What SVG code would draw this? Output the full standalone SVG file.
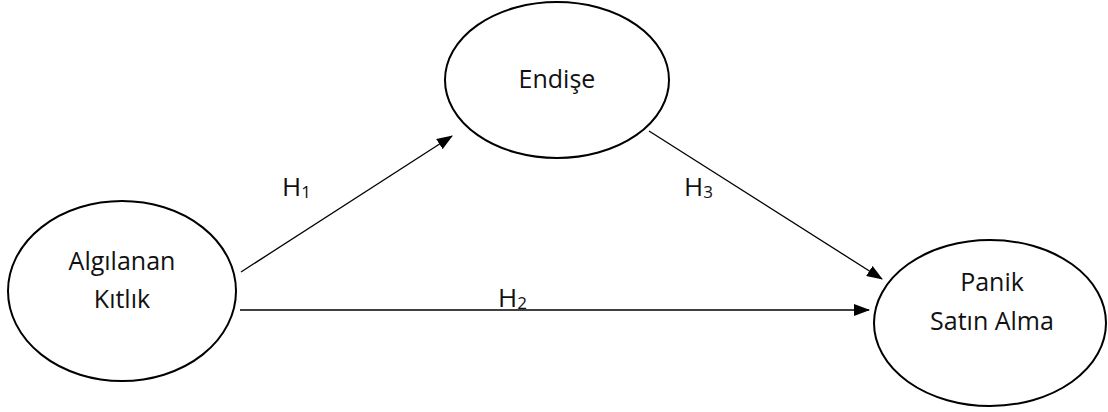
<svg xmlns="http://www.w3.org/2000/svg" width="1108" height="412" viewBox="0 0 1108 412">
<style>
.node{fill:#fff;stroke:#000;stroke-width:2}
.t{font-family:"Open Sans","Liberation Sans",sans-serif;font-size:25px;fill:#111;text-anchor:middle}
.h{font-family:"Open Sans","Liberation Sans",sans-serif;font-size:26px;fill:#111}
.sub{font-size:17px}
.c{stroke:#000;stroke-width:1.3;fill:none;marker-end:url(#ah)}
</style>
<defs>
<marker id="ah" markerWidth="16" markerHeight="12" refX="15" refY="6" orient="auto" markerUnits="userSpaceOnUse">
<path d="M0,0 L16,6 L0,12 Z" fill="#000"/>
</marker>
</defs>
<rect width="1108" height="412" fill="#fff"/>
<g id="connectors">
<line class="c" x1="241" y1="272" x2="452" y2="136"/>
<line class="c" x1="240" y1="310" x2="869" y2="310"/>
<line class="c" x1="649" y1="131" x2="882" y2="279"/>
</g>
<g id="algilanan">
<ellipse class="node" cx="122" cy="291" rx="114" ry="90"/>
<text class="t" x="122" y="270">Algılanan</text>
<text class="t" x="122" y="308">Kıtlık</text>
</g>
<g id="endise">
<ellipse class="node" cx="557" cy="80" rx="112" ry="78"/>
<text class="t" x="557" y="88">Endişe</text>
</g>
<g id="panik">
<ellipse class="node" cx="990" cy="323" rx="116" ry="83"/>
<text class="t" x="992" y="291">Panik</text>
<text class="t" x="992" y="330">Satın Alma</text>
</g>
<g id="labels">
<text class="h" x="282" y="196">H<tspan class="sub" dy="2">1</tspan></text>
<text class="h" x="684" y="196">H<tspan class="sub" dy="2">3</tspan></text>
<text class="h" x="498" y="307">H<tspan class="sub" dy="2">2</tspan></text>
</g>
</svg>
